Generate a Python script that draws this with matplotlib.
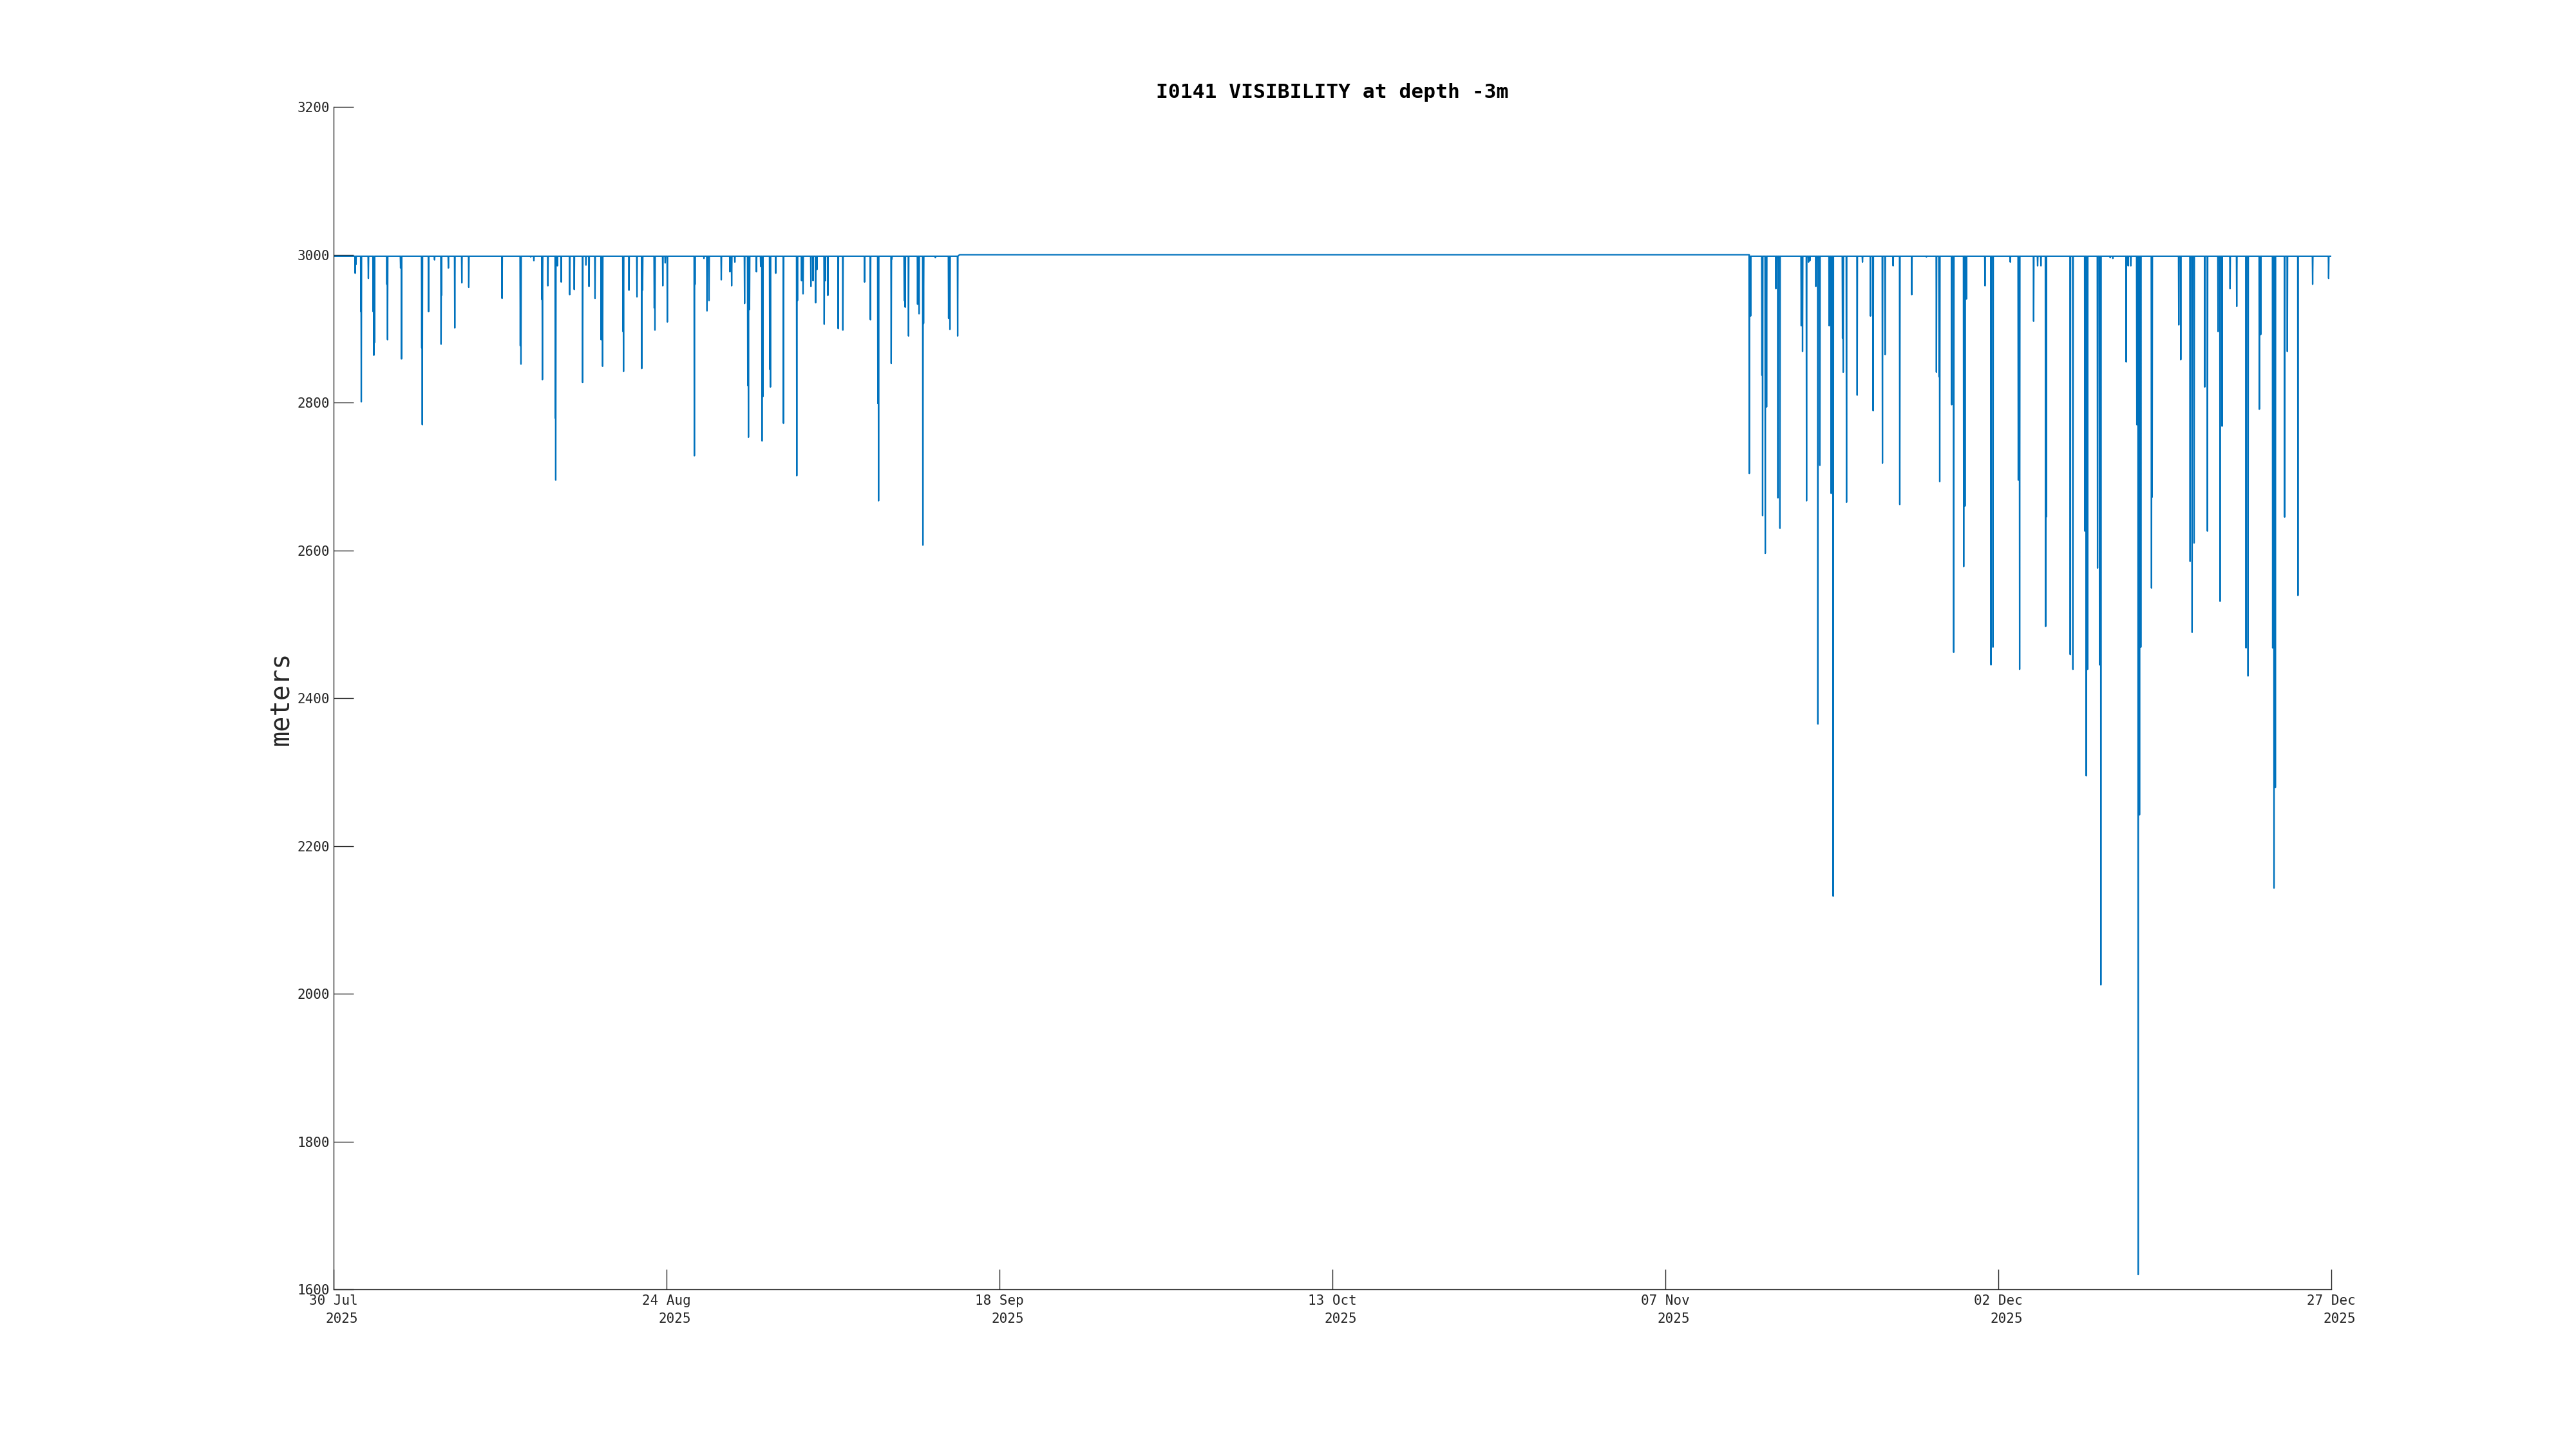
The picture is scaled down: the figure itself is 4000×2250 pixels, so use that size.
import matplotlib
matplotlib.use('Agg')
import matplotlib.pyplot as plt
import matplotlib.dates as mdates
import datetime as dt

# ---------------- data ----------------
start_date = dt.datetime(2025, 7, 30)
end_date = dt.datetime(2025, 12, 27)

tick_dates = ['2025-07-30', '2025-08-24', '2025-09-18', '2025-10-13',
              '2025-11-07', '2025-12-02', '2025-12-27']
tick_labels = ['30 Jul\n2025', '24 Aug\n2025', '18 Sep\n2025', '13 Oct\n2025',
               '07 Nov\n2025', '02 Dec\n2025', '27 Dec\n2025']
y_ticks = [1600, 1800, 2000, 2200, 2400, 2600, 2800, 3000, 3200]

# recording periods (days since 30 Jul 2025)
period_start = [0.0, 106.3]
period_end = [47.0, 150.0]
base_level = 2998      # typical visibility reading while recording
gap_level = 3000       # level at the edges of the data gap

# visibility drops: day offset since 30 Jul 2025 and minimum value (m)
dip_day = [
    1.62, 1.68, 2.05, 2.08, 2.61, 2.97, 3.02, 3.07, 4.00, 4.05, 5.03, 5.10,
    6.62, 6.66, 7.13, 7.58, 8.07, 8.10, 8.62, 9.10, 9.63, 10.15, 12.65, 14.02,
    14.07, 14.80, 15.04, 15.65, 15.68, 16.09, 16.65, 16.68, 16.80, 17.09, 17.73,
    18.07, 18.70, 18.95, 19.18, 19.63, 20.09, 20.20, 21.73, 21.77, 22.18, 22.78,
    23.14, 23.20, 24.08, 24.13, 24.72, 24.90, 25.06, 27.09, 27.14, 27.81, 28.04,
    28.19, 29.11, 29.76, 29.89, 30.13, 30.86, 31.10, 31.15, 31.23, 31.75, 32.07,
    32.17, 32.23, 32.75, 32.80, 33.20, 33.78, 34.78, 34.83, 35.14, 35.25, 35.84,
    36.00, 36.20, 36.29, 36.84, 36.92, 37.11, 37.89, 38.24, 39.87, 40.31, 40.87,
    40.92, 41.87, 41.92, 42.85, 42.92, 43.17, 43.85, 43.96, 44.25, 44.30, 45.18,
    46.18, 46.28, 46.86,
    106.30, 106.40, 107.25, 107.30, 107.50, 107.60, 108.30, 108.45, 108.60,
    110.20, 110.30, 110.60, 110.75, 110.85, 111.30, 111.45, 111.60, 112.30,
    112.45, 112.60, 113.30, 113.35, 113.60, 114.40, 114.80, 115.40, 115.60,
    116.30, 116.50, 117.10, 117.60, 118.50, 119.60, 120.35, 120.55, 120.60,
    121.50, 121.65, 122.40, 122.50, 122.60, 124.00, 124.45, 124.60, 125.90,
    126.50, 126.60, 127.65, 127.95, 128.20, 128.55, 128.60, 130.40, 130.60,
    131.50, 131.60, 131.70, 132.45, 132.60, 132.70, 133.40, 133.60, 134.60,
    134.75, 134.95, 135.40, 135.50, 135.60, 135.70, 136.50, 136.55, 138.55,
    138.70, 139.40, 139.55, 139.70, 140.50, 140.70, 141.50, 141.65, 141.80,
    142.40, 142.90, 143.60, 143.75, 144.60, 144.70, 145.60, 145.70, 145.80,
    146.50, 146.70, 147.50, 148.60, 149.80,
]
dip_value = [
    2975, 2987, 2923, 2801, 2968, 2923, 2864, 2881, 2960, 2885, 2982, 2859,
    2874, 2770, 2923, 2993, 2879, 2945, 2982, 2901, 2962, 2956, 2941, 2877,
    2852, 2997, 2992, 2939, 2831, 2958, 2779, 2695, 2985, 2963, 2946,
    2953, 2827, 2986, 2957, 2941, 2885, 2849, 2896, 2842, 2952, 2943,
    2846, 2952, 2928, 2898, 2958, 2989, 2909, 2728, 2960, 2995, 2924,
    2938, 2966, 2977, 2958, 2990, 2934, 2823, 2753, 2926, 2977, 2984,
    2748, 2808, 2845, 2821, 2975, 2772, 2701, 2938, 2965, 2947, 2957,
    2965, 2935, 2980, 2906, 2965, 2945, 2900, 2898, 2963, 2912, 2799,
    2667, 2853, 2994, 2938, 2929, 2890, 2933, 2920, 2607, 2907, 2996,
    2914, 2899, 2890,
    2704, 2917, 2837, 2647, 2596, 2794, 2954, 2671, 2630,
    2904, 2869, 2667, 2990, 2992, 2957, 2365, 2715, 2904,
    2677, 2132, 2887, 2841, 2665, 2810, 2990, 2917, 2789,
    2718, 2865, 2985, 2662, 2946, 2997, 2841, 2835, 2693,
    2797, 2462, 2578, 2660, 2940, 2958, 2445, 2469, 2990,
    2695, 2439, 2910, 2985, 2985, 2497, 2645, 2459, 2439,
    2626, 2295, 2439, 2576, 2445, 2012, 2996, 2995, 2855,
    2985, 2985, 2770, 1620, 2242, 2469, 2549, 2672, 2905,
    2858, 2585, 2489, 2610, 2821, 2626, 2896, 2531, 2768,
    2954, 2930, 2468, 2430, 2791, 2892, 2468, 2143, 2279,
    2645, 2869, 2539, 2960, 2968,
]

# ---------------- build series ----------------
half_width = 0.02  # days on each side of a drop
days, vals = [], []
for p0, p1 in zip(period_start, period_end):
    days.append(p0)
    vals.append(gap_level if p0 > 0 else base_level)
    for d, v in zip(dip_day, dip_value):
        if p0 <= d <= p1:
            days += [d - half_width, d, d + half_width]
            vals += [base_level, v, base_level]
    days.append(p1)
    vals.append(gap_level if p1 < 140 else base_level)

times = [start_date + dt.timedelta(days=d) for d in days]

# ---------------- plot ----------------
mono = 'DejaVu Sans Mono'
axis_color = '#262626'

fig = plt.figure(figsize=(40, 22.5), dpi=100)
ax = fig.add_axes([0.1295, 0.1102, 0.7755, 0.816])

ax.plot(times, vals, color='#0072BD', linewidth=1.6)

ax.set_xlim(start_date, end_date)
ax.set_ylim(1600, 3200)
ax.set_yticks(y_ticks)
ax.set_yticklabels([str(v) for v in y_ticks], fontfamily=mono, fontsize=15,
                   color=axis_color)
ax.set_xticks([mdates.datestr2num(d) for d in tick_dates])
ax.set_xticklabels(tick_labels, fontfamily=mono, fontsize=15, color=axis_color,
                   linespacing=1.45)
for lab in ax.get_xticklabels():
    lab.set_multialignment('right')

ax.tick_params(axis='both', direction='in', length=22, width=1.0,
               color=axis_color, pad=4)
ax.tick_params(axis='x', pad=6)

for side in ['top', 'right']:
    ax.spines[side].set_visible(False)
for side in ['left', 'bottom']:
    ax.spines[side].set_color(axis_color)
    ax.spines[side].set_linewidth(1.0)

ax.set_title('I0141 VISIBILITY at depth -3m', fontfamily=mono,
             fontweight='bold', fontsize=22.5, pad=10, color='black')
ax.set_ylabel('meters', fontfamily=mono, fontsize=29, color=axis_color,
              labelpad=4)

fig.savefig('out.png', dpi=100, facecolor='white')
